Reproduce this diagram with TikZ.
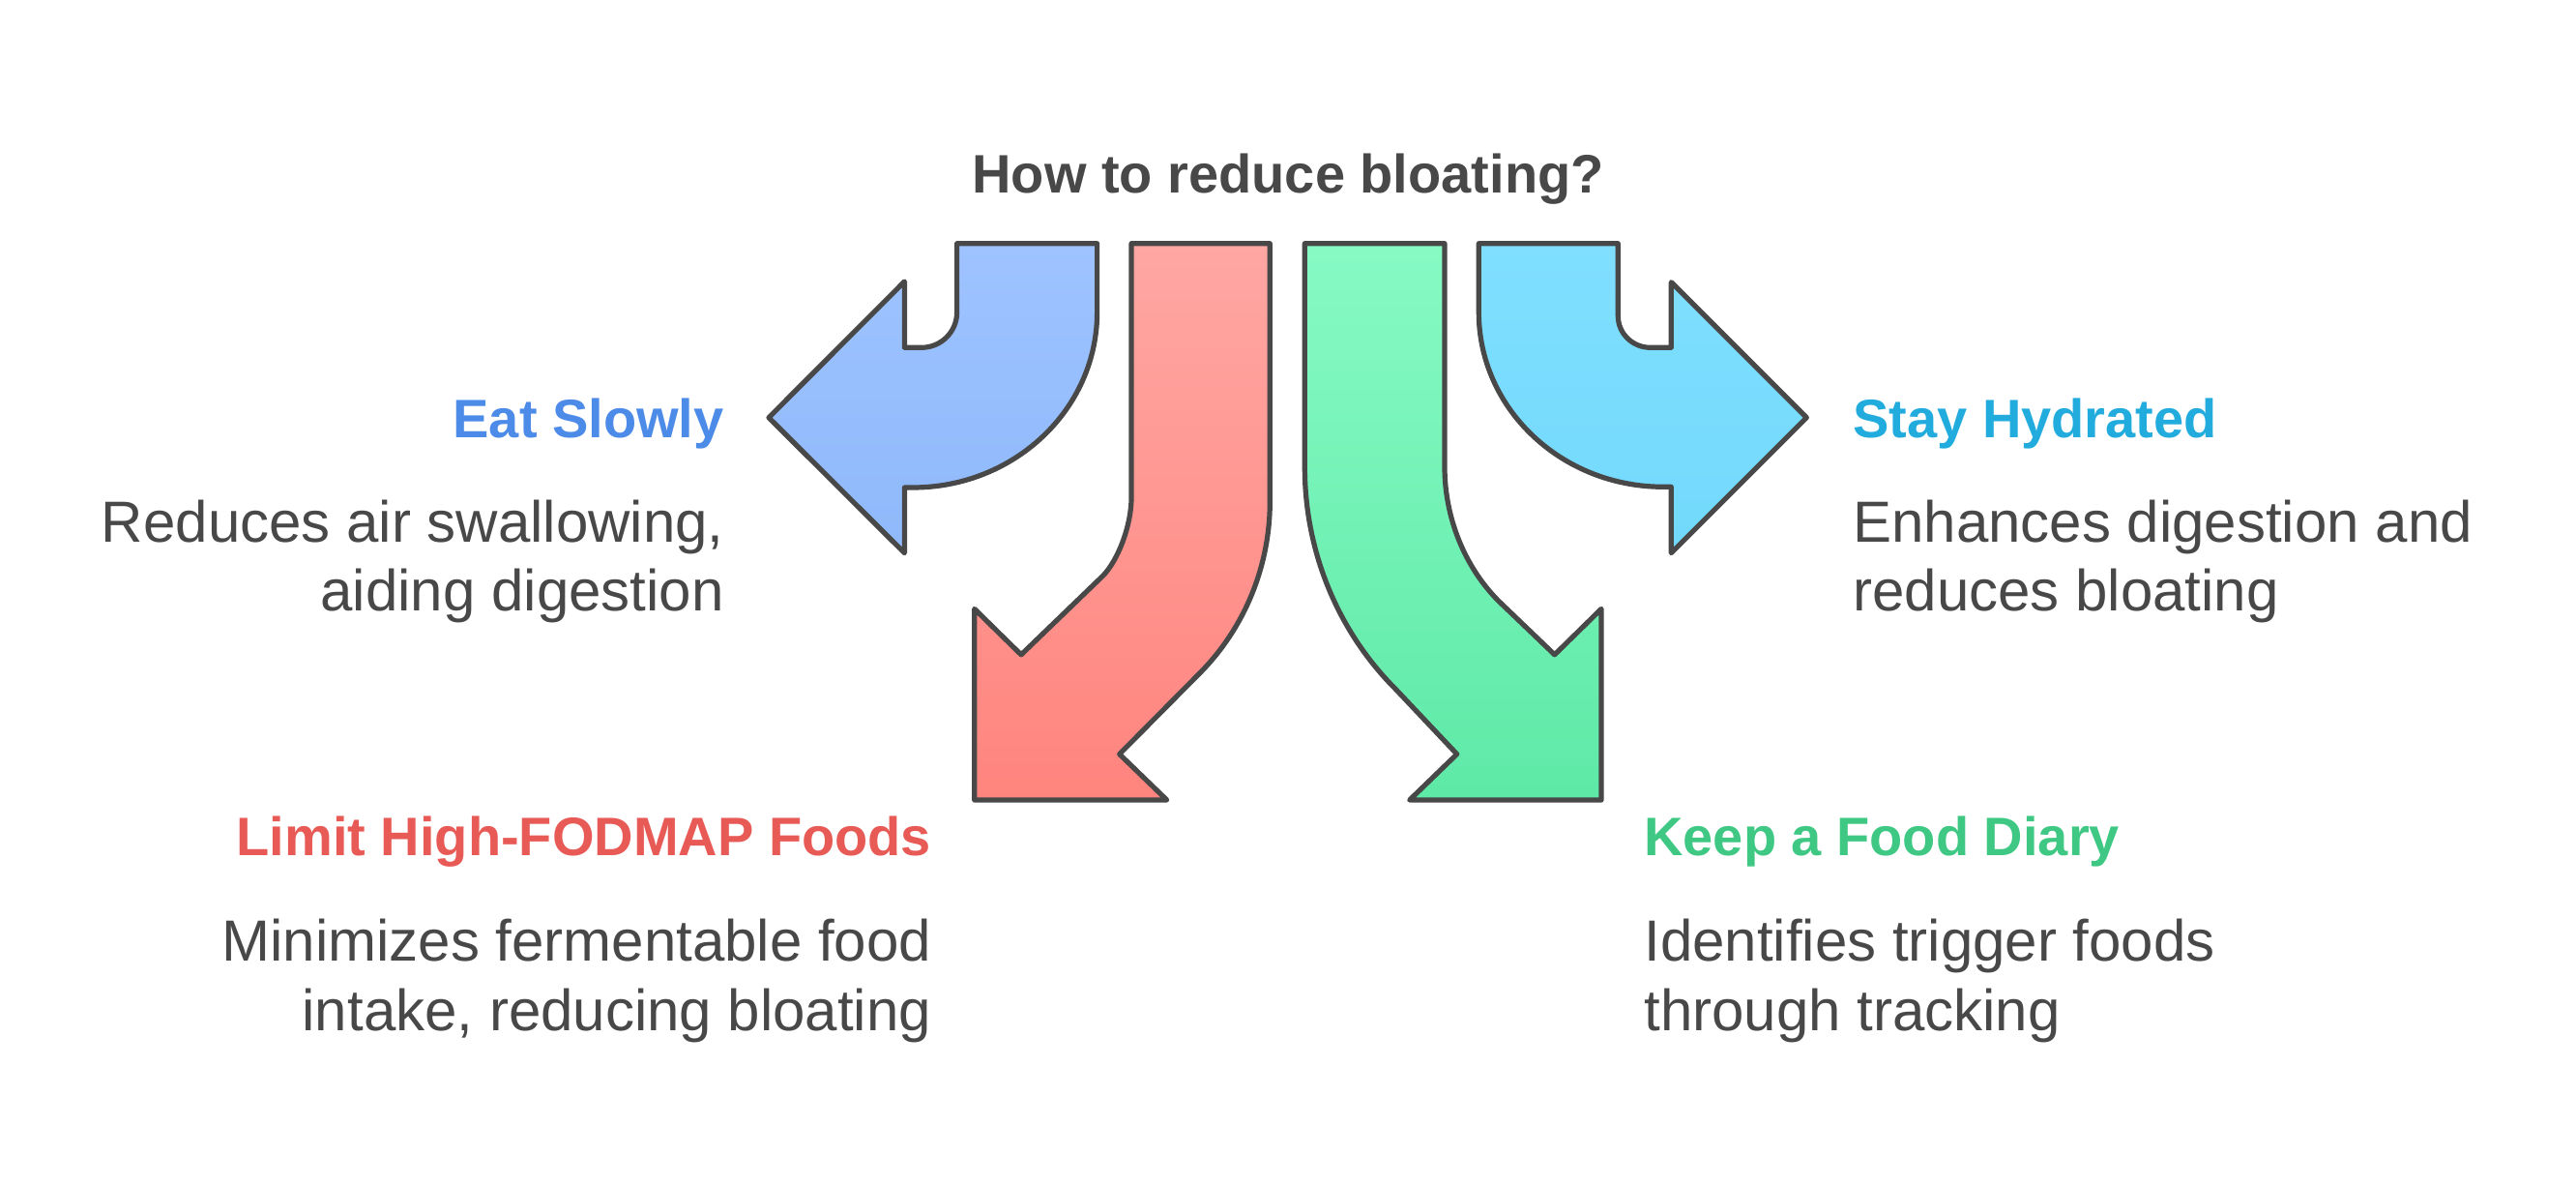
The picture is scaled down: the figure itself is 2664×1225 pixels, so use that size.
\documentclass[tikz,border=0pt]{standalone}
\usepackage{fontspec}
\setmainfont{Liberation Sans}

\definecolor{inkgray}{HTML}{484848}
\definecolor{eatblue}{HTML}{4D8BE8}
\definecolor{hydcyan}{HTML}{22ACDD}
\definecolor{fodred}{HTML}{E85A56}
\definecolor{diarygreen}{HTML}{3EC883}
\definecolor{bluetop}{HTML}{9EC3FF}
\definecolor{bluebot}{HTML}{8FB9FB}
\definecolor{redtop}{HTML}{FFA7A3}
\definecolor{redbot}{HTML}{FF847E}
\definecolor{greentop}{HTML}{87FAC4}
\definecolor{greenbot}{HTML}{5EE9A7}
\definecolor{cyantop}{HTML}{80DFFF}
\definecolor{cyanbot}{HTML}{72D9FC}

\tikzset{
  outline/.style={draw=inkgray, line width=2.6pt, line join=round},
  heading/.style={font=\bfseries\fontsize{28}{34}\selectfont, inner sep=0pt},
  blurb/.style={font=\fontsize{30}{35.8}\selectfont, text=inkgray, inner sep=0pt},
}

\begin{document}
\begin{tikzpicture}[x=0.5pt,y=-0.5pt]
\useasboundingbox (0,0) rectangle (2664,1225);

\node[heading, text=inkgray, anchor=base] (title) at (1332,200) {How to reduce bloating?};

% left turn
\draw[outline, top color=bluetop, bottom color=bluebot]
  (989.6,251.7) -- (1134.6,251.7) -- (1134.6,323)
  .. controls (1134.6,423) and (1049,504) .. (944,504)
  -- (935.4,504) -- (935.4,571.7) -- (795,431.7) -- (935.4,291) -- (935.4,359.3) -- (953,359.3)
  .. controls (973.2,359.3) and (989.6,343) .. (989.6,323) -- cycle;

% down left
\draw[outline, top color=redtop, bottom color=redbot]
  (1170,251.7) -- (1313.3,251.7) -- (1313.3,518.7)
  .. controls (1313.3,585.3) and (1287.1,649.5) .. (1240,696.6)
  -- (1157.7,779.6) -- (1206.7,827) -- (1007.7,827) -- (1007.7,629.4) -- (1056,676.8) -- (1140,595.8)
  .. controls (1156.5,579.3) and (1170,542.8) .. (1170,514.7) -- cycle;

% down right
\draw[outline, top color=greentop, bottom color=greenbot]
  (1349.3,251.7) -- (1494,251.7) -- (1494,483)
  .. controls (1494,534) and (1514,585.5) .. (1550,621.5)
  -- (1607.7,676.8) -- (1656,629.4) -- (1656,827) -- (1457.7,827) -- (1506.7,779.6) -- (1443.3,712.4)
  .. controls (1382.6,651.7) and (1349.3,568.8) .. (1349.3,483) -- cycle;

% right turn
\draw[outline, top color=cyantop, bottom color=cyanbot]
  (1529.3,251.7) -- (1673.3,251.7) -- (1673.3,326.7)
  .. controls (1673.3,344.7) and (1688.3,359.3) .. (1706.7,359.3)
  -- (1728.3,359.3) -- (1728.3,291.7) -- (1868.3,431.7) -- (1728.3,571.7) -- (1728.3,503.3) -- (1720,503.3)
  .. controls (1614.7,503.3) and (1529.3,422.5) .. (1529.3,323) -- cycle;

% labels (multi-line blurbs sit on their last baseline)
\node[heading, text=eatblue, anchor=base east] (eat) at (749,452.7) {Eat Slowly};
\node[blurb, align=right, anchor=base east] (eattxt) at (749,631.7) {Reduces air swallowing,\\aiding digestion};

\node[heading, text=fodred, anchor=base east] (fod) at (963.5,884) {Limit High-FODMAP Foods};
\node[blurb, align=right, anchor=base east] (fodtxt) at (963.5,1065) {Minimizes fermentable food\\intake, reducing bloating};

\node[heading, text=hydcyan, anchor=base west] (hyd) at (1916,452.7) {Stay Hydrated};
\node[blurb, align=left, anchor=base west] (hydtxt) at (1916,631.7) {Enhances digestion and\\reduces bloating};

\node[heading, text=diarygreen, anchor=base west] (diary) at (1700,884) {Keep a Food Diary};
\node[blurb, align=left, anchor=base west] (diarytxt) at (1700,1065) {Identifies trigger foods\\through tracking};
\end{tikzpicture}
\end{document}
